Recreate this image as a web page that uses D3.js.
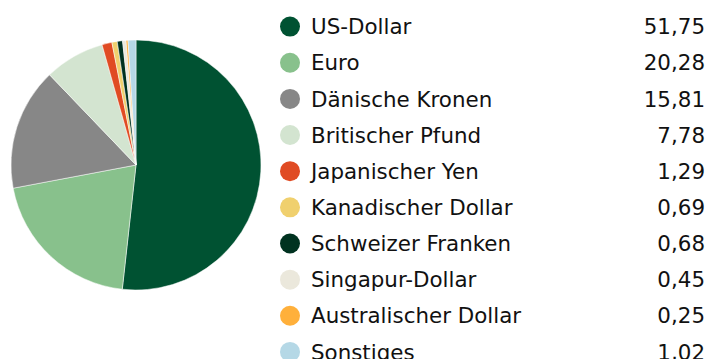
<!DOCTYPE html>
<html>
<head>
<meta charset="utf-8">
<script src="https://cdn.jsdelivr.net/npm/d3@7"></script>
<style>
  html, body { margin: 0; padding: 0; background: #fff; }
  svg { display: block; }
  text { font-family: "DejaVu Sans", sans-serif; fill: #111; }
</style>
</head>
<body>
<svg id="chart" width="708" height="359"></svg>
<script>
// Currency allocation (percent)
const categories = [
  "US-Dollar", "Euro", "Dänische Kronen", "Britischer Pfund", "Japanischer Yen",
  "Kanadischer Dollar", "Schweizer Franken", "Singapur-Dollar", "Australischer Dollar", "Sonstiges"
];
const values = [51.75, 20.28, 15.81, 7.78, 1.29, 0.69, 0.68, 0.45, 0.25, 1.02];
const valueLabels = ["51,75", "20,28", "15,81", "7,78", "1,29", "0,69", "0,68", "0,45", "0,25", "1,02"];
const colors = [
  "#005232", "#88c18c", "#878787", "#d3e4d0", "#e04b23",
  "#f0d06e", "#003220", "#ebe8dc", "#ffb03b", "#b5d8e6"
];

const svg = d3.select("#chart");
const data = categories.map((c, i) => ({ name: c, value: values[i], label: valueLabels[i], color: colors[i] }));

// Pie, starting at 12 o'clock and running clockwise
const pie = d3.pie().sort(null).value(d => d.value);
const arc = d3.arc().innerRadius(0).outerRadius(125);
const pieG = svg.append("g").attr("transform", "translate(136,165)");
pieG.selectAll("path")
  .data(pie(data))
  .join("path")
  .attr("d", arc)
  .attr("fill", d => d.data.color)
  .attr("stroke", "#fff")
  .attr("stroke-width", 0.5);

// Legend: swatch, name, right-aligned value (the last row runs off the bottom edge)
const y = d3.scaleBand().domain(categories).range([8.5, 8.5 + 36.15 * categories.length]);
const legend = svg.append("g");
const rows = legend.selectAll("g")
  .data(data)
  .join("g")
  .attr("transform", d => `translate(0,${y(d.name) + y.bandwidth() / 2})`);
rows.append("circle")
  .attr("cx", 290).attr("cy", 0).attr("r", 10)
  .attr("fill", d => d.color);
rows.append("text")
  .attr("x", 311).attr("y", 0).attr("dy", "0.36em")
  .attr("font-size", 21.4)
  .text(d => d.name);
rows.append("text")
  .attr("x", 705).attr("y", 0).attr("dy", "0.36em")
  .attr("font-size", 21.4)
  .attr("text-anchor", "end")
  .text(d => d.label);
</script>
</body>
</html>
